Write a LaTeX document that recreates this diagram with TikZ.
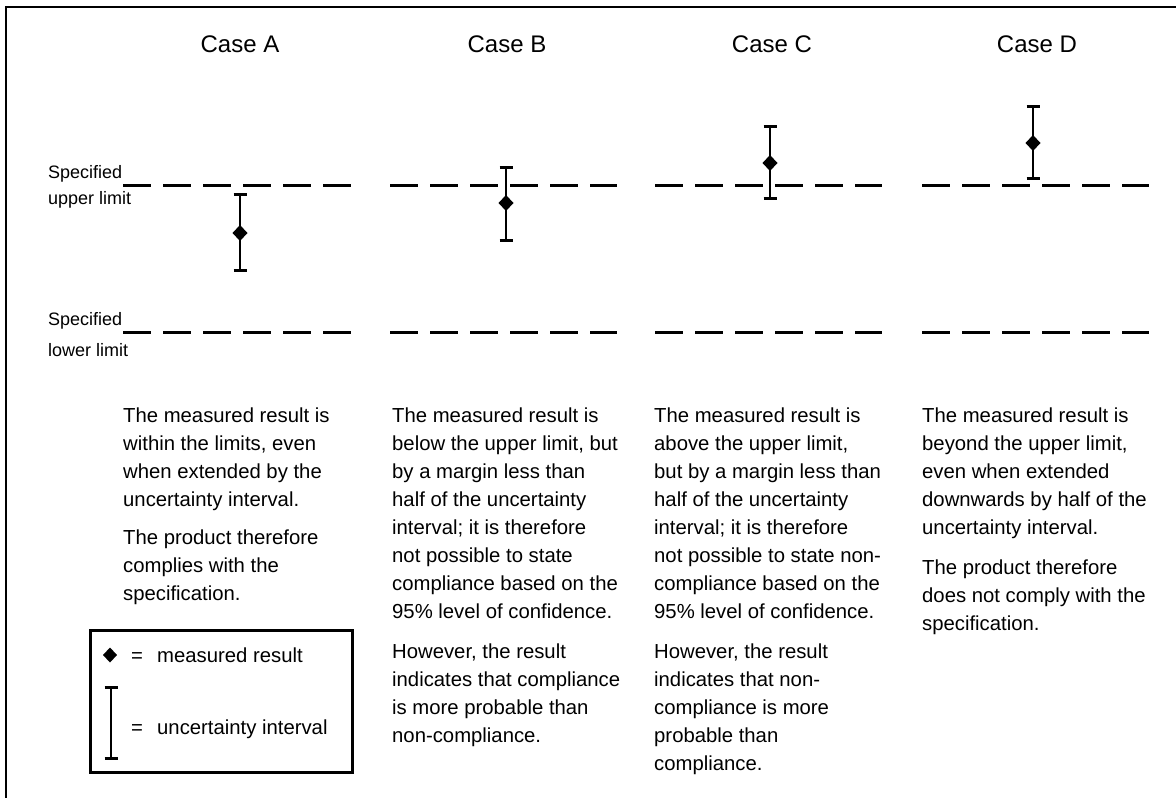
\documentclass[tikz,border=0pt]{standalone}
\usepackage{fontspec}
\setmainfont{Liberation Sans}
\newcommand\errbar[4]{% x, top, mid, bottom
  \draw[barline] (#1,#2) -- (#1,#4);
  \draw[capline] (#1-6.5,#2) -- (#1+6.5,#2);
  \draw[capline] (#1-6.5,#4) -- (#1+6.5,#4);
  \fill (#1-7.5,#3) -- (#1,#3-8) -- (#1+7.5,#3) -- (#1,#3+8) -- cycle;}
\begin{document}
\begin{tikzpicture}[x=1pt,y=-1pt,
  para/.style={anchor=north west,inner sep=0pt,align=left,font=\fontsize{20.3}{28}\selectfont},
  title/.style={anchor=base,inner sep=0pt,font=\fontsize{24}{28}\selectfont},
  lab/.style={anchor=base west,inner sep=0pt,font=\fontsize{18}{22}\selectfont},
  legtext/.style={anchor=base west,inner sep=0pt,font=\fontsize{20.3}{24}\selectfont},
  eqsign/.style={anchor=base,inner sep=0pt,font=\fontsize{20.3}{24}\selectfont},
  limitline/.style={line width=3pt,dash pattern=on 28pt off 12pt},
  barline/.style={line width=2.5pt},
  capline/.style={line width=3pt}]
\useasboundingbox (0,0) rectangle (1176,798);
% frame
\draw[line width=2pt] (6,798) -- (6,7) -- (1176,7);
% titles
\node[title] (ta) at (240,52) {Case A};
\node[title] (tb) at (507,52) {Case B};
\node[title] (tc) at (772,52) {Case C};
\node[title] (td) at (1037,52) {Case D};
% limit labels
\node[lab] (su1) at (48,178) {Specified};
\node[lab] (su2) at (48,204) {upper limit};
\node[lab] (sl1) at (48,325) {Specified};
\node[lab] (sl2) at (48,356) {lower limit};
% limit lines
\foreach \a/\b in {123/352,390/617,655/882,922/1149}{
  \draw[limitline] (\a,185) -- (\b,185);
  \draw[limitline] (\a,332) -- (\b,332);
}
% error bars
\errbar{240}{194}{233}{270}
\errbar{506}{167}{203}{240}
\errbar{770}{126}{163}{198}
\errbar{1033}{106}{143}{178}
% texts
\node[para] (a1) at (123,402.4) {\strut The measured result is\\within the limits, even\\when extended by the\\uncertainty interval.};
\node[para] (a2) at (123,524.4) {\strut The product therefore\\complies with the\\specification.};
\node[para] (b1) at (392,402.4) {\strut The measured result is\\below the upper limit, but\\by a margin less than\\half of the uncertainty\\interval; it is therefore\\not possible to state\\compliance based on the\\95\% level of confidence.};
\node[para] (b2) at (392,638.4) {\strut However, the result\\indicates that compliance\\is more probable than\\non-compliance.};
\node[para] (c1) at (654,402.4) {\strut The measured result is\\above the upper limit,\\but by a margin less than\\half of the uncertainty\\interval; it is therefore\\not possible to state non-\\compliance based on the\\95\% level of confidence.};
\node[para] (c2) at (654,638.4) {\strut However, the result\\indicates that non-\\compliance is more\\probable than\\compliance.};
\node[para] (d1) at (922,402.4) {\strut The measured result is\\beyond the upper limit,\\even when extended\\downwards by half of the\\uncertainty interval.};
\node[para] (d2) at (922,554.4) {\strut The product therefore\\does not comply with the\\specification.};
% legend
\draw[line width=3pt] (90,630) rectangle (352,772);
\fill (110-7,655) -- (110,655-7.5) -- (110+7,655) -- (110,655+7.5) -- cycle;
\node[eqsign] (e1) at (137,662) {=};
\node[legtext] (l1) at (157,662) {measured result};
\draw[line width=1.5pt] (111,687) -- (111,758);
\draw[capline] (111-6.5,687) -- (111+6.5,687);
\draw[capline] (111-6.5,758) -- (111+6.5,758);
\node[eqsign] (e2) at (137,734) {=};
\node[legtext] (l2) at (157,734) {uncertainty interval};
\end{tikzpicture}
\end{document}
